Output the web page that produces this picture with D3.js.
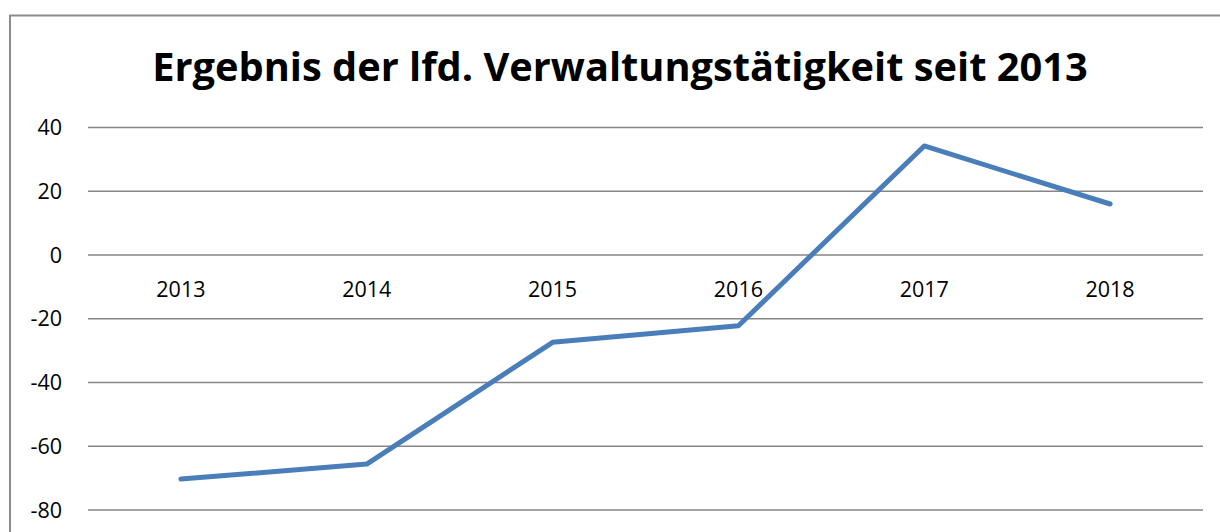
<!DOCTYPE html>
<html>
  <head>
    <meta charset="utf-8" />
    <title>Ergebnis der lfd. Verwaltungstätigkeit seit 2013</title>
    <script src="https://d3js.org/d3.v7.min.js"></script>
    <style>
      body { margin: 0; background: #fff; }
      text { font-family: "Open Sans", "Noto Sans", sans-serif; }
    </style>
  </head>
  <body>
    <svg id="chart" width="1220" height="532"></svg>

    <script>
      var years = ["2013", "2014", "2015", "2016", "2017", "2018"];
      var values = [-70.3, -65.6, -27.4, -22.2, 34.2, 16.0];
      var yTicks = [40, 20, 0, -20, -40, -60, -80];
      var title = "Ergebnis der lfd. Verwaltungstätigkeit seit 2013";

      // plot area edges (note: "top" is taken by window.top)
      var plotLeft = 88, plotRight = 1203, plotTop = 127.5, plotBottom = 510;

      var svg = d3.select("#chart");

      // chart frame (only top and left edges are in view)
      svg.append("path")
        .attr("d", "M10,532 L10,15.5 L1220,15.5")
        .attr("fill", "none")
        .attr("stroke", "#8c8c8c")
        .attr("stroke-width", 2);

      var x = d3.scaleBand().domain(years).range([plotLeft, plotRight]);
      var y = d3.scaleLinear().domain([-80, 40]).range([plotBottom, plotTop]);

      // gridlines
      svg.selectAll("line.grid")
        .data(yTicks)
        .enter()
        .append("line")
        .attr("class", "grid")
        .attr("x1", plotLeft)
        .attr("x2", plotRight)
        .attr("y1", function (d) { return y(d); })
        .attr("y2", function (d) { return y(d); })
        .attr("stroke", "#868686")
        .attr("stroke-width", 1.5);

      // y labels
      svg.selectAll("text.ylab")
        .data(yTicks)
        .enter()
        .append("text")
        .attr("class", "ylab")
        .attr("x", 62)
        .attr("y", function (d) { return y(d); })
        .attr("dy", "0.36em")
        .attr("text-anchor", "end")
        .attr("font-size", 21.5)
        .attr("fill", "#000")
        .text(function (d) { return d; });

      // category labels, sitting under the zero line
      svg.selectAll("text.xlab")
        .data(years)
        .enter()
        .append("text")
        .attr("class", "xlab")
        .attr("x", function (d) { return x(d) + x.bandwidth() / 2; })
        .attr("y", y(0) + 42)
        .attr("text-anchor", "middle")
        .attr("font-size", 21.5)
        .attr("fill", "#000")
        .text(function (d) { return d; });

      // the line
      var line = d3.line()
        .x(function (d, i) { return x(years[i]) + x.bandwidth() / 2; })
        .y(function (d) { return y(d); });

      svg.append("path")
        .datum(values)
        .attr("d", line)
        .attr("fill", "none")
        .attr("stroke", "#4a7ebb")
        .attr("stroke-width", 5)
        .attr("stroke-linejoin", "round")
        .attr("stroke-linecap", "round");

      // title, fitted to the width seen in the picture
      var t = svg.append("text")
        .attr("x", 620)
        .attr("y", 81)
        .attr("text-anchor", "middle")
        .attr("font-weight", "bold")
        .attr("font-size", 40)
        .attr("fill", "#000")
        .text(title);
      var w = t.node().getComputedTextLength();
      t.attr("font-size", 40 * 936 / w);
    </script>
  </body>
</html>
